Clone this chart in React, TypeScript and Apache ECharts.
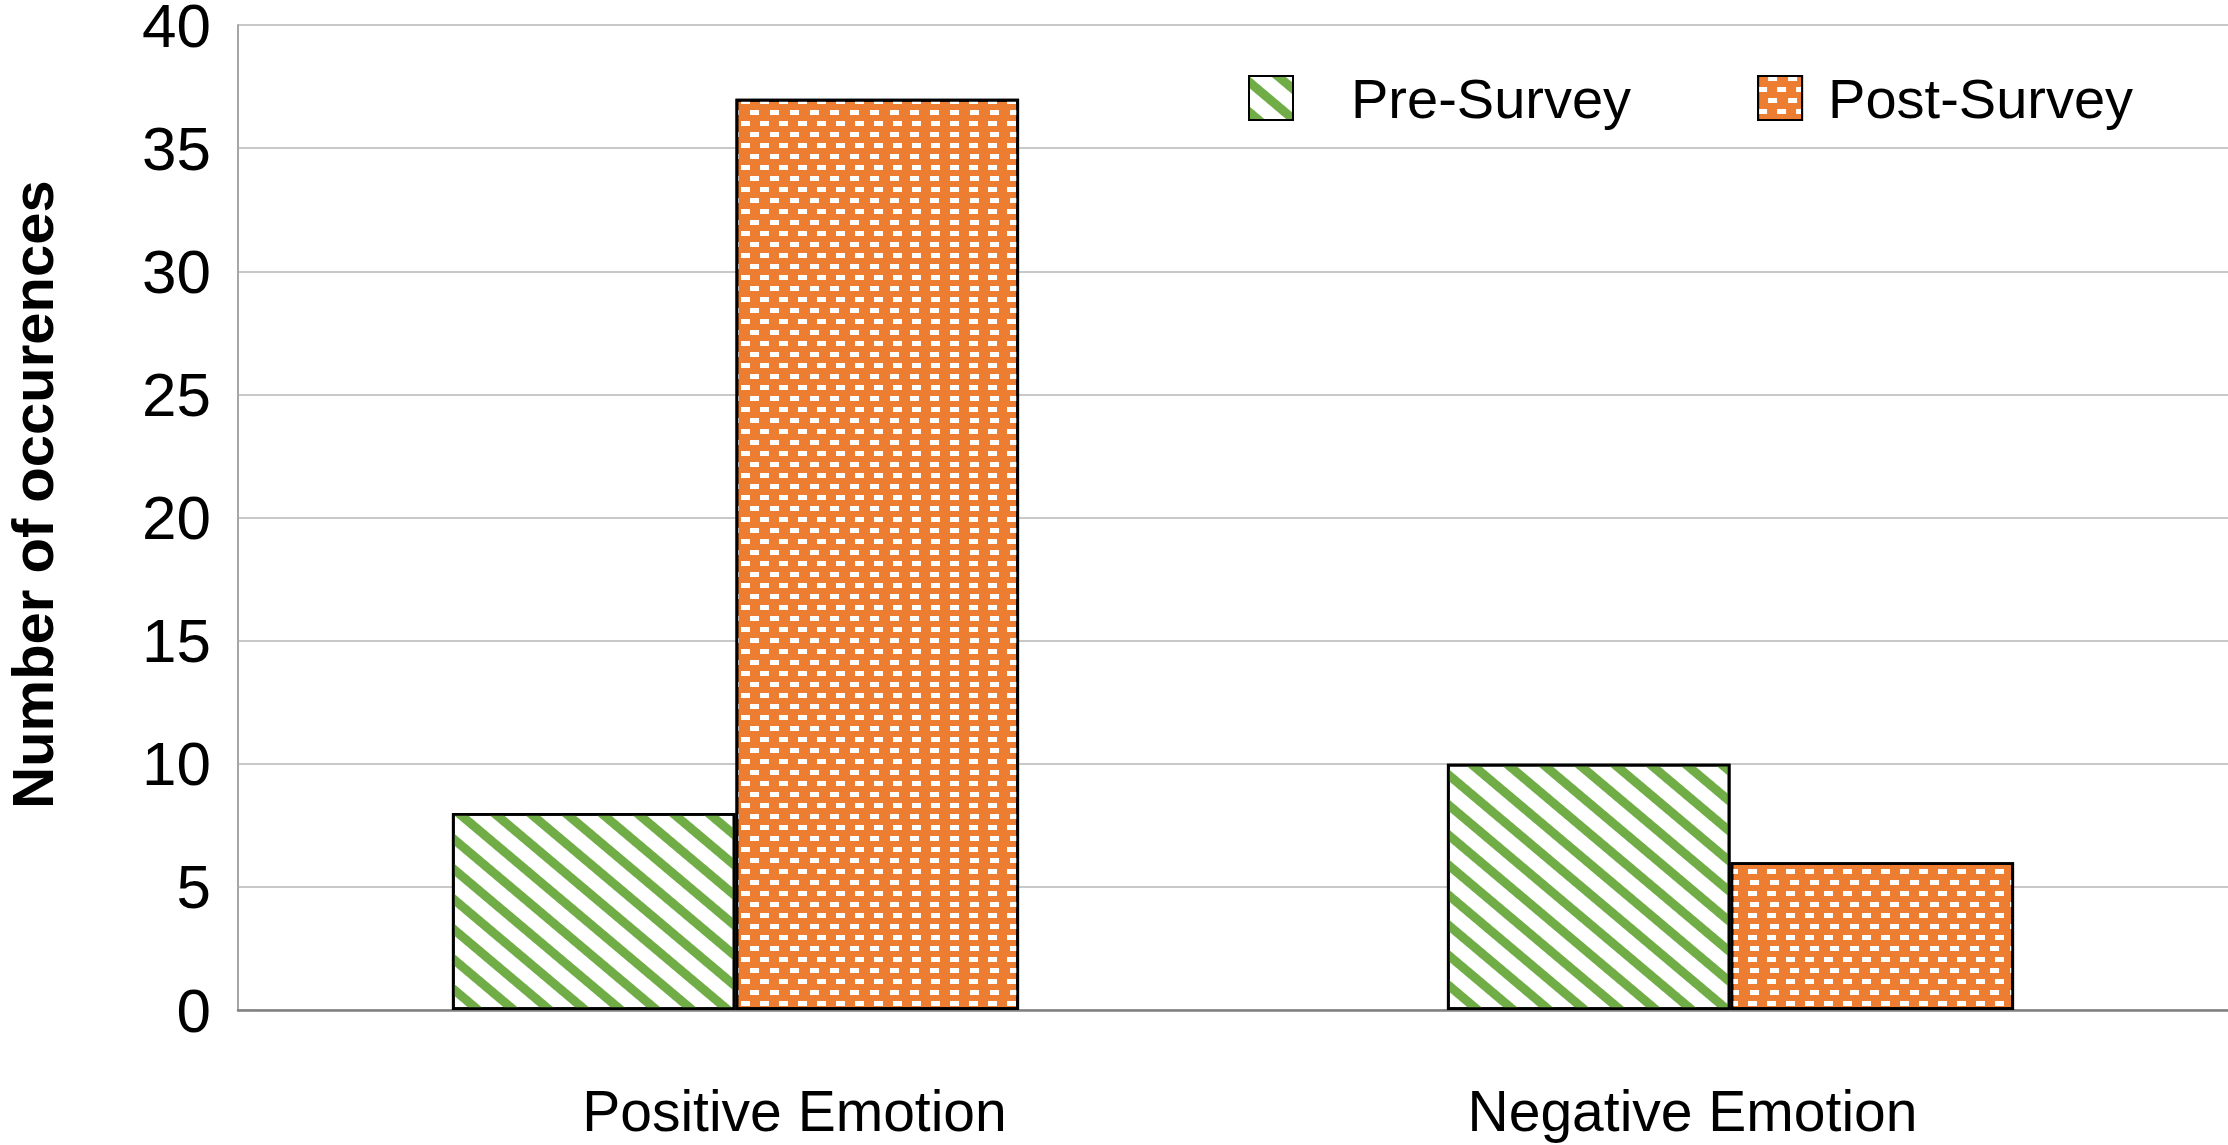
import React, { useEffect, useRef } from 'react';
import * as echarts from 'echarts';

const categories = ['Positive Emotion', 'Negative Emotion'];
const preSurvey = [8, 10];
const postSurvey = [37, 6];
const seriesNames = ['Pre-Survey', 'Post-Survey'];
const yAxisTitle = 'Number of occurences';

const FONT = '"Liberation Sans", Arial, Helvetica, sans-serif';

export default function App() {
  const ref = useRef<HTMLDivElement>(null);
  useEffect(() => {
    document.body.style.margin = '0';
    if (!ref.current) return;
    const chart = echarts.init(ref.current, undefined, { renderer: 'svg' });
    const option: any = {
      animation: false,
      backgroundColor: '#ffffff',
      aria: { enabled: true, decal: { show: true } },
      grid: {
        left: 238,
        right: 0,
        top: 25,
        bottom: 135,
        containLabel: false,
        outerBoundsMode: 'none',
      },
      legend: {
        left: 1248,
        top: 70,
        padding: 0,
        itemWidth: 44,
        itemHeight: 44,
        itemGap: 126,
        icon: 'rect',
        data: seriesNames,
        formatter: (name: string) => (name === seriesNames[0] ? `{a|${name}}` : `{b|${name}}`),
        textStyle: {
          fontFamily: FONT,
          fontSize: 56,
          color: '#000',
          rich: {
            a: { fontFamily: FONT, fontSize: 56, color: '#000', padding: [0, 0, 0, 53] },
            b: { fontFamily: FONT, fontSize: 56, color: '#000', padding: [0, 0, 0, 21] },
          },
        },
      },
      xAxis: {
        type: 'category',
        data: categories,
        axisLine: { show: true, lineStyle: { color: '#7f7f7f', width: 2.5 } },
        axisTick: { show: false },
        axisLabel: {
          margin: 72,
          fontFamily: FONT,
          fontSize: 57,
          color: '#000',
          formatter: (v: string) => (v === categories[0] ? `{a|${v}}` : `{b|${v}}`),
          rich: {
            a: { fontFamily: FONT, fontSize: 57, color: '#000', padding: [0, 0, 0, 118] },
            b: { fontFamily: FONT, fontSize: 57, color: '#000', padding: [0, 76, 0, 0] },
          },
        },
      },
      yAxis: {
        type: 'value',
        min: 0,
        max: 40,
        interval: 5,
        name: yAxisTitle,
        nameLocation: 'middle',
        nameGap: 177,
        nameTextStyle: {
          fontFamily: FONT,
          fontSize: 58,
          fontWeight: 'bold',
          color: '#000',
          padding: [0, 0, 0, 46],
        },
        axisLine: { show: true, lineStyle: { color: '#a6a6a6', width: 2 } },
        axisTick: { show: false },
        axisLabel: {
          margin: 27,
          fontFamily: FONT,
          fontSize: 62,
          lineHeight: 40,
          color: '#000',
          verticalAlign: 'middle',
          padding: [8, 0, 0, 0],
        },
        splitLine: { show: true, lineStyle: { color: '#c9c9c9', width: 2 } },
      },
      series: [
        {
          name: seriesNames[0],
          type: 'bar',
          data: preSurvey,
          barGap: '0%',
          barCategoryGap: '43%',
          itemStyle: {
            color: '#ffffff',
            borderColor: '#000',
            borderWidth: 2.8,
            decal: {
              symbol: 'rect',
              symbolSize: 1,
              color: '#70ad47',
              dashArrayX: [1, 0],
              dashArrayY: [9, 14],
              rotation: 0.7,
            },
          },
        },
        {
          name: seriesNames[1],
          type: 'bar',
          data: postSurvey,
          barGap: '0%',
          barCategoryGap: '43%',
          itemStyle: {
            color: '#ed7d31',
            borderColor: '#000',
            borderWidth: 2.8,
            decal: {
              symbol: 'rect',
              symbolSize: 1,
              color: '#ffffff',
              dashArrayX: [[9, 10], [0, 9.5, 9, 0.5]],
              dashArrayY: [4.5, 5.1],
              rotation: 0,
            },
          },
        },
      ],
    };
    chart.setOption(option);
    return () => chart.dispose();
  }, []);
  return <div ref={ref} style={{ width: 2228, height: 1145 }} />;
}
